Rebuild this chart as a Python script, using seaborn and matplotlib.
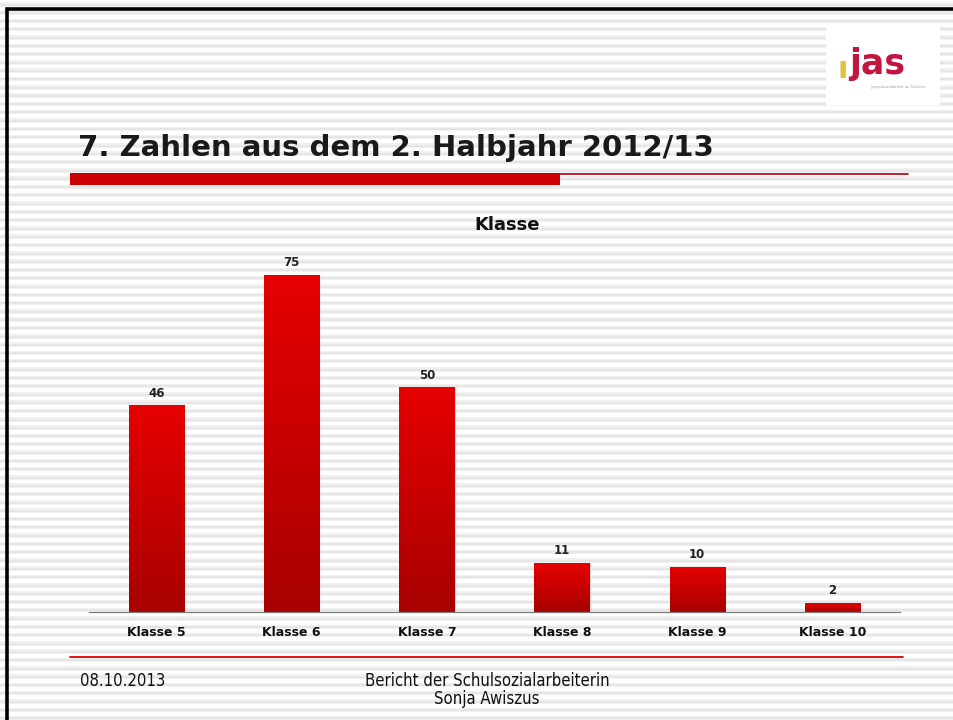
import matplotlib
matplotlib.use("Agg")
import matplotlib.pyplot as plt
import seaborn as sns
import pandas as pd
import numpy as np
from matplotlib.colors import LinearSegmentedColormap
from matplotlib.lines import Line2D
from matplotlib.patches import Rectangle

categories = ["Klasse 5", "Klasse 6", "Klasse 7", "Klasse 8", "Klasse 9", "Klasse 10"]
counts = [46, 75, 50, 11, 10, 2]

df = pd.DataFrame({"klasse": categories, "anzahl": counts})

sns.set_theme(style="white")
plt.rcParams["font.family"] = ["DejaVu Sans"]

W, H = 954, 720
fig = plt.figure(figsize=(W / 100, H / 100), dpi=100)
fig.patch.set_facecolor("white")

# striped slide background, pixel coordinates
bg = fig.add_axes([0, 0, 1, 1], zorder=0)
bg.set_xlim(0, W)
bg.set_ylim(H, 0)
bg.axis("off")
for y in np.arange(2, H, 8.3):
    bg.axhspan(y, y + 1.5, color="#f1f1f1", lw=0)
    bg.axhspan(y + 1.5, y + 3.5, color="#e6e6e6", lw=0)
    bg.axhspan(y + 3.5, y + 4.5, color="#f1f1f1", lw=0)

# black frame on left and top
bg.add_line(Line2D([7.5, 7.5, W], [H, 9, 9], color="black", lw=2.6, solid_joinstyle="miter"))

# logo
bg.add_patch(Rectangle((826, 25), 114, 80, facecolor="white", edgecolor="none"))
bg.text(849, 64, "jas", color="#c0163f", fontsize=25, fontweight="bold",
        ha="left", va="center")
bg.text(838, 70, "\u0131", color="#e8c13a", fontsize=22, fontweight="bold",
        ha="left", va="center")
bg.text(898, 87, "Jugendsozialarbeit an Schulen", color="#a0a0a0", fontsize=2.6,
        ha="center", va="center")

# slide title
bg.text(78, 148, "7. Zahlen aus dem 2. Halbjahr 2012/13", fontsize=21, fontweight="bold",
        color="#1a1a1a", ha="left", va="center")
bg.add_patch(Rectangle((70, 173), 490, 12, facecolor="#cc0000", edgecolor="none"))
bg.add_line(Line2D([560, 908], [173.5, 173.5], color="#aa0000", lw=1.2))

# footer
bg.add_line(Line2D([70, 903], [657, 657], color="#dd0000", lw=1.3))
foot = dict(fontsize=12, color="#111111", va="center", fontstretch="condensed")
bg.text(80, 681, "08.10.2013", ha="left", **foot)
bg.text(487, 681, "Bericht der Schulsozialarbeiterin", ha="center", **foot)
bg.text(487, 699, "Sonja Awiszus", ha="center", **foot)

# chart
ax = fig.add_axes([89 / W, 1 - 612 / H, (900 - 89) / W, (612 - 250) / H], zorder=2)
ax.patch.set_alpha(0)
sns.barplot(data=df, x="klasse", y="anzahl", color="#cc0000", width=0.41, ax=ax,
            edgecolor="#f4d0d0", linewidth=0.8)

ymax = 80.6
cmap = LinearSegmentedColormap.from_list("rot", ["#a80000", "#e60000"])
grad = np.linspace(0, 1, 256).reshape(-1, 1)
for p, v in zip(ax.patches, counts):
    x0, w, h = p.get_x(), p.get_width(), p.get_height()
    im = ax.imshow(grad, extent=[x0, x0 + w, 0, h], origin="lower", aspect="auto",
                   cmap=cmap, zorder=p.get_zorder() + 0.1)
    im.set_clip_path(p)
    ax.text(x0 + w / 2, h + 1.3, str(v), ha="center", va="bottom", fontsize=8.5,
            fontweight="bold", color="#222222")

ax.set_xlim(-0.5, len(categories) - 0.5)
ax.set_ylim(0, ymax)
ax.set_xlabel("")
ax.set_ylabel("")
ax.set_yticks([])
ax.tick_params(axis="x", length=0, pad=10, labelsize=9, colors="#111111")
for lbl in ax.get_xticklabels():
    lbl.set_fontweight("bold")
for s in ["top", "right", "left"]:
    ax.spines[s].set_visible(False)
ax.spines["bottom"].set_color("#7a7a7a")
ax.spines["bottom"].set_linewidth(0.9)

fig.text(507 / W, 1 - 225 / H, "Klasse", fontsize=13, fontweight="bold", ha="center",
         va="center", color="#111111")

fig.savefig("out.png", dpi=100)
